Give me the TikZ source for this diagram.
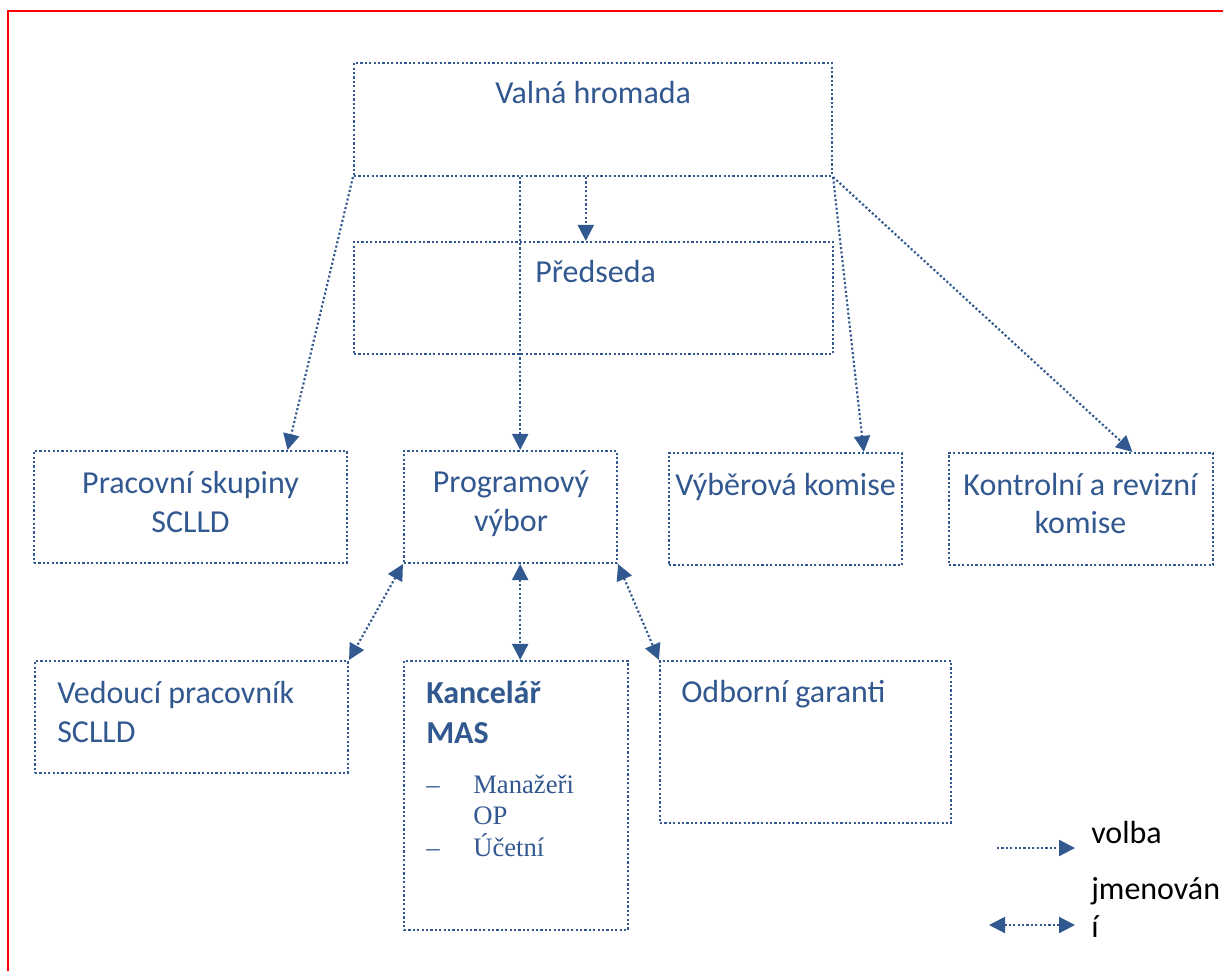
\documentclass[tikz,border=0pt]{standalone}
\usepackage{fontspec}
\setmainfont{Carlito}
\newfontfamily\serifface{Liberation Serif}
\usetikzlibrary{arrows.meta,calc,fit}
\definecolor{orgblue}{RGB}{50,88,144}
\tikzset{
  orgbox/.style={draw=orgblue, line width=1.6pt, dash pattern=on 1.6pt off 1.7pt, inner sep=0pt, rectangle},
  txt/.style={text=orgblue, inner sep=0pt, font=\fontsize{24pt}{28.5pt}\selectfont},
  boldtxt/.style={txt, font=\fontsize{24pt}{28.5pt}\selectfont\bfseries},
  listtxt/.style={text=orgblue, inner sep=0pt, font=\fontsize{20pt}{24pt}\selectfont\serifface},
  legtxt/.style={text=black, inner sep=0pt, font=\fontsize{24pt}{28.5pt}\selectfont},
  volba/.style={draw=orgblue, line width=1.6pt, dash pattern=on 1.6pt off 1.7pt,
     -{Triangle[length=12pt,width=12pt,fill=orgblue]}},
  jmen/.style={draw=orgblue, line width=1.6pt, dash pattern=on 1.6pt off 1.7pt,
     {Triangle[length=12pt,width=12pt,fill=orgblue]}-{Triangle[length=12pt,width=12pt,fill=orgblue]}},
}
\begin{document}
\begin{tikzpicture}[x=0.75pt,y=-0.75pt]
\useasboundingbox (0,0) rectangle (1223,971);
% red frame
\draw[red, line width=1.6pt] (8,971) -- (8,11) -- (1223,11);

% boxes
\node[orgbox, fit={(354,63) (832,176)}] (valna) {};
\node[orgbox, fit={(354,242) (833,354)}] (pred) {};
\node[orgbox, fit={(34,451) (347,563)}] (prac) {};
\node[orgbox, fit={(404,451) (617,563)}] (prog) {};
\node[orgbox, fit={(669,453) (902,565)}] (vyber) {};
\node[orgbox, fit={(949,453) (1213,565)}] (kontr) {};
\node[orgbox, fit={(35,661) (348,773)}] (ved) {};
\node[orgbox, fit={(404,661) (628,930)}] (kanc) {};
\node[orgbox, fit={(660,661) (951,823)}] (odb) {};

% texts
\node[txt, anchor=base west] (valnaT) at (495,103) {Valná hromada};
\node[txt, anchor=base west] (predT) at (535,282) {Předseda};
\node[txt, anchor=base] (pracT1) at (190.5,493) {Pracovní skupiny};
\node[txt, anchor=base] (pracT2) at (190.5,532) {SCLLD};
\node[txt, anchor=base] (progT1) at (511,492) {Programový};
\node[txt, anchor=base] (progT2) at (511,531) {výbor};
\node[txt, anchor=base west] (vyberT) at (675,495) {Výběrová komise};
\node[txt, anchor=base] (kontrT1) at (1080.5,495) {Kontrolní a revizní};
\node[txt, anchor=base] (kontrT2) at (1080.5,533) {komise};
\node[txt, anchor=base west] (vedT1) at (57,703) {Vedoucí pracovník};
\node[txt, anchor=base west] (vedT2) at (57,742) {SCLLD};
\node[boldtxt, anchor=base west] (kancT1) at (426,703) {Kancelář};
\node[boldtxt, anchor=base west] (kancT2) at (426,743) {MAS};
\node[listtxt, anchor=base west] (d1) at (426,793) {–};
\node[listtxt, anchor=base west] (li1) at (473,793) {Manažeři};
\node[listtxt, anchor=base west] (li1b) at (473,824) {OP};
\node[listtxt, anchor=base west] (d2) at (426,856) {–};
\node[listtxt, anchor=base west] (li2) at (473,856) {Účetní};
\node[txt, anchor=base west] (odbT) at (681,702) {Odborní garanti};

% connection points
\coordinate (pracTop) at ($(prac.north west)!0.808!(prac.north east)$);
\coordinate (progTop) at ($(prog.north west)!0.545!(prog.north east)$);
\coordinate (progBot) at ($(prog.south west)!0.545!(prog.south east)$);
\coordinate (predTop) at ($(pred.north west)!0.484!(pred.north east)$);
\coordinate (vyberTop) at ($(vyber.north west)!0.833!(vyber.north east)$);
\coordinate (kontrTop) at ($(kontr.north west)!0.693!(kontr.north east)$);

% volba arrows
\draw[volba] (valna.south west) -- (pracTop);
\draw[volba] (valna.south -| progTop) -- (progTop);
\draw[volba] (valna.south -| predTop) -- (predTop);
\draw[volba] (valna.south east) -- (vyberTop);
\draw[volba] (valna.south east) -- (kontrTop);

% jmenovani arrows
\draw[jmen] (prog.south west) -- (ved.north east);
\draw[jmen] (progBot) -- (kanc.north -| progBot);
\draw[jmen] (prog.south east) -- (odb.north west);

% legend
\coordinate (l1a) at (997,848);
\coordinate (l1b) at (1075,848);
\coordinate (l2a) at (989,925);
\coordinate (l2b) at (1075,925);
\draw[volba] (l1a) -- (l1b);
\draw[jmen] (l2a) -- (l2b);
\node[legtxt, anchor=base west] (legV) at (1091,843) {volba};
\node[legtxt, anchor=base west] (legJ1) at (1091,899) {jmenován};
\node[legtxt, anchor=base west] (legJ2) at (1091,937) {í};
\end{tikzpicture}
\end{document}
